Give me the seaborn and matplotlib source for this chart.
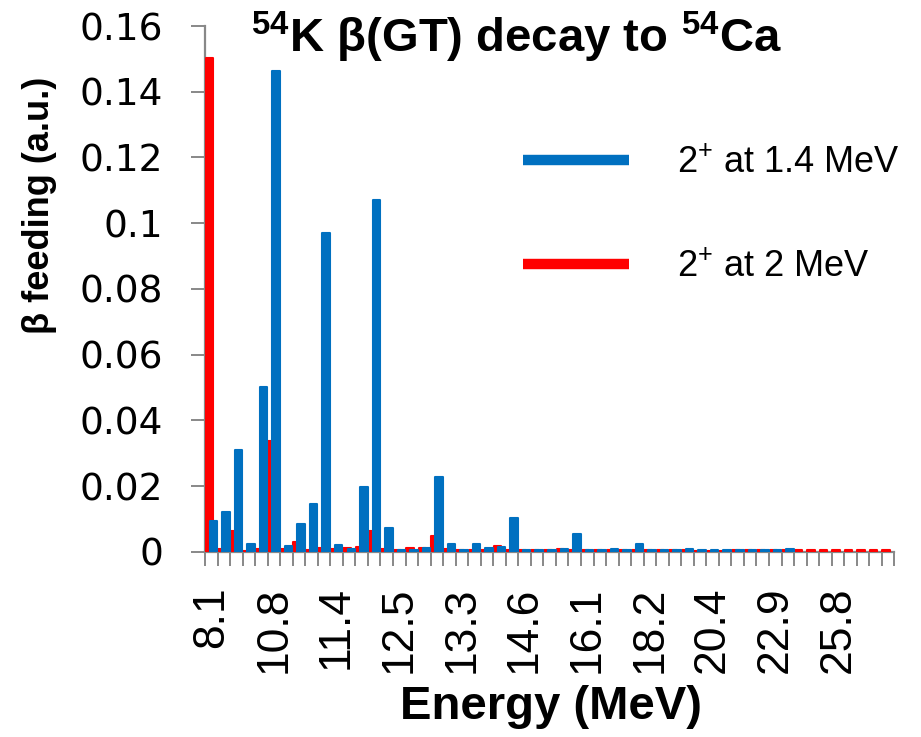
import numpy as np
import pandas as pd
import matplotlib
matplotlib.use("Agg")
import matplotlib.pyplot as plt
import seaborn as sns
from matplotlib.lines import Line2D
from matplotlib.ticker import FixedLocator, FuncFormatter

# Excitation-energy bins in 54Ca (55 bins, every fifth one labelled)
tick_labels = ["8.1", "10.8", "11.4", "12.5", "13.3", "14.6",
               "16.1", "18.2", "20.4", "22.9", "25.8"]
n_bins = 55
label_every = 5

# Beta feeding, calculation with the 2+ state at 1.4 MeV
feeding_14 = [0.0092, 0.0122, 0.0310, 0.0023, 0.0500, 0.1463, 0.0018, 0.0085,
              0.0145, 0.0970, 0.0019, 0.0007, 0.0198, 0.1072, 0.0071, 0.0005,
              0.0005, 0.0010, 0.0227, 0.0024, 0.0006, 0.0025, 0.0012, 0.0013,
              0.0104, 0.0006, 0.0006, 0.0005, 0.0009, 0.0053, 0.0006, 0.0006,
              0.0007, 0.0006, 0.0022, 0.0006, 0.0006, 0.0006, 0.0008, 0.0006,
              0.0006, 0.0006, 0.0006, 0.0006, 0.0006, 0.0006, 0.0007, 0.0,
              0.0, 0.0, 0.0, 0.0, 0.0, 0.0, 0.0]

# Beta feeding, calculation with the 2+ state at 2 MeV
feeding_20 = [0.1502, 0.0008, 0.0063, 0.0003, 0.0007, 0.0338, 0.0008, 0.0030,
              0.0005, 0.0010, 0.0008, 0.0012, 0.0015, 0.0063, 0.0008, 0.0005,
              0.0010, 0.0010, 0.0049, 0.0008, 0.0005, 0.0006, 0.0006, 0.0018,
              0.0005, 0.0005, 0.0005, 0.0005, 0.0008, 0.0005, 0.0005, 0.0005,
              0.0005, 0.0005, 0.0005, 0.0006, 0.0005, 0.0004, 0.0005, 0.0003,
              0.0003, 0.0003, 0.0005, 0.0005, 0.0005, 0.0005, 0.0005, 0.0005,
              0.0005, 0.0005, 0.0005, 0.0005, 0.0005, 0.0005, 0.0005]

series_names = ["2$^{+}$ at 1.4 MeV", "2$^{+}$ at 2 MeV"]
series_colors = ["#0070C0", "#FF0000"]

sns.set_theme(style="white")
plt.rcParams["font.family"] = ["Liberation Sans", "DejaVu Sans"]
plt.rcParams["text.color"] = "black"
plt.rcParams["axes.labelcolor"] = "black"
plt.rcParams["mathtext.fontset"] = "custom"
plt.rcParams["mathtext.rm"] = "Liberation Sans"
plt.rcParams["mathtext.bf"] = "Liberation Sans:bold"
plt.rcParams["mathtext.it"] = "Liberation Sans:italic"

fig = plt.figure(figsize=(9.21, 7.37), dpi=100)
ax = fig.add_axes([0.2226, 0.2514, 0.7484, 0.7132])

idx = np.arange(n_bins)
df = pd.DataFrame({"bin": idx, "f14": feeding_14, "f20": feeding_20})

bar_width = 0.6
offsets = [0.17, -0.15]
# red series first, blue series drawn over it
for col, off, c in [("f20", offsets[1], series_colors[1]),
                    ("f14", offsets[0], series_colors[0])]:
    before = len(ax.patches)
    sns.barplot(x=df["bin"] + off, y=df[col], native_scale=True, orient="x",
                width=bar_width, color=c, saturation=1, errorbar=None,
                edgecolor=c, linewidth=1.5, ax=ax)
    for p in ax.patches[before:]:
        p.set_joinstyle("round")
        if p.get_height() == 0:
            p.set_visible(False)

ax.set_xlim(-0.5, n_bins - 0.5)
ax.set_ylim(0, 0.16)

axis_gray = "#888888"
for side in ["top", "right"]:
    ax.spines[side].set_visible(False)
for side in ["left", "bottom"]:
    ax.spines[side].set_color(axis_gray)
    ax.spines[side].set_linewidth(1.6)
    ax.spines[side].set_zorder(0.5)

# y axis
yt = np.arange(0, 0.161, 0.02)
ax.yaxis.set_major_locator(FixedLocator(yt))
ax.yaxis.set_major_formatter(FuncFormatter(lambda v, _: f"{v:.2f}".rstrip("0").rstrip(".") if v else "0"))
ax.tick_params(axis="y", which="major", length=10, width=1.4, color=axis_gray,
               labelcolor="black", pad=20, labelsize=27, left=True)
for t in ax.get_yticklabels():
    t.set_fontfamily(["DejaVu Sans"])

# x axis: labels at every fifth bin, tick marks on bin boundaries
label_pos = idx[::label_every]
ax.xaxis.set_major_locator(FixedLocator(label_pos))
ax.set_xticklabels(tick_labels, rotation=90)
ax.xaxis.set_minor_locator(FixedLocator(np.arange(-0.5, n_bins, 1.0)))
ax.tick_params(axis="x", which="major", length=0, pad=25, labelsize=32,
               labelcolor="black", bottom=True)
ax.tick_params(axis="x", which="minor", length=10, width=1.4, color=axis_gray, bottom=True)

ax.set_xlabel("Energy (MeV)", fontsize=34, fontweight="bold", va="center")
ax.xaxis.set_label_coords(0.502, -0.295)
ax.set_ylabel("β feeding (a.u.)", fontsize=26, fontweight="bold", va="center")
ax.yaxis.set_label_coords(-0.2395, 0.658)

fig.text(0.561, 1 - 52 / 737, r"$\mathbf{^{54}}$K β(GT) decay to $\mathbf{^{54}}$Ca",
         fontsize=34, fontweight="bold", ha="center", va="baseline")

handles = [Line2D([], [], color=series_colors[0], lw=7.5, solid_capstyle="butt"),
           Line2D([], [], color=series_colors[1], lw=7.5, solid_capstyle="butt")]
ax.legend(handles, series_names, loc="upper left", bbox_to_anchor=(523 / 921, 1 - 146 / 737),
          bbox_transform=fig.transFigure, frameon=False, fontsize=26,
          handlelength=2.94, handletextpad=1.33, labelspacing=1.9, borderpad=0,
          borderaxespad=0)

fig.savefig("out.png", dpi=100, facecolor="white")
